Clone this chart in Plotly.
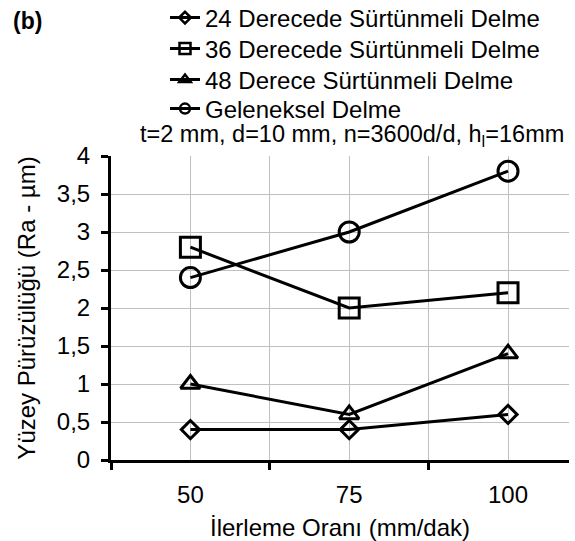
import plotly.graph_objects as go

feed = [50, 75, 100]
s24 = [0.4, 0.4, 0.6]
s36 = [2.8, 2.0, 2.2]
s48 = [1.0, 0.6, 1.4]
sgel = [2.4, 3.0, 3.8]
names = ["24 Derecede Sürtünmeli Delme", "36 Derecede Sürtünmeli Delme",
         "48 Derece Sürtünmeli Delme", "Geleneksel Delme"]
series = [s24, s36, s48, sgel]
symbols = ["diamond-open", "square-open", "triangle-up-open", "circle-open"]
plot_sizes = [14, 20, 17, 20]
legend_sizes = [9, 11, 10, 10]
y_ticks = [0, 0.5, 1, 1.5, 2, 2.5, 3, 3.5, 4]
x_ticks = [50, 75, 100]
x_bounds = [37.5, 62.5, 87.5]

FONT = "Liberation Sans, Arial, sans-serif"
W, H = 575, 541
L, R, T, B = 111, 6, 156, 81
PW, PH = W - L - R, H - T - B

def paper_x(px):
    return (px - L) / PW

def paper_y(py):
    return 1 + (T - py) / PH

legend_ids = ["legend", "legend2", "legend3", "legend4"]
row_centers = [18, 49, 80, 109]

fig = go.Figure()
for name, ys, sym, ps in zip(names, series, symbols, plot_sizes):
    fig.add_trace(go.Scatter(
        x=feed, y=ys, mode="lines+markers", name=name, showlegend=False,
        line=dict(color="black", width=3),
        marker=dict(symbol=sym, size=ps, color="black", line=dict(color="black", width=3)),
    ))
for name, sym, ls, lid in zip(names, symbols, legend_sizes, legend_ids):
    fig.add_trace(go.Scatter(
        x=[None], y=[None], mode="lines+markers", name=name, showlegend=True,
        legend=lid,
        line=dict(color="black", width=3),
        marker=dict(symbol=sym, size=ls, color="black", line=dict(color="black", width=2.5)),
    ))

legend_layout = {}
for lid, yc in zip(legend_ids, row_centers):
    legend_layout[lid] = dict(x=paper_x(165), xanchor="left", y=paper_y(yc), yanchor="middle",
                              bgcolor="rgba(0,0,0,0)", font=dict(size=24), itemwidth=30)

fig.update_layout(
    width=W, height=H,
    margin=dict(l=L, r=R, t=T, b=B, autoexpand=False),
    paper_bgcolor="white", plot_bgcolor="white",
    separators=", ",
    font=dict(family=FONT, size=24, color="black"),
    showlegend=True,
    xaxis=dict(range=[37.5, 109.6], tickvals=x_ticks, ticks="", showgrid=True,
               gridcolor="#c0c0c0", gridwidth=1, zeroline=False,
               showline=True, linecolor="black", linewidth=3,
               ticklabelstandoff=11, automargin=False,
               minor=dict(tickvals=x_bounds, ticks="outside", ticklen=7, tickwidth=3,
                          tickcolor="black", showgrid=True, gridcolor="#c0c0c0", gridwidth=1),
               title=dict(text="İlerleme Oranı (mm/dak)", font=dict(size=24))),
    yaxis=dict(range=[0, 4], tickvals=y_ticks, ticks="outside", ticklen=7, tickwidth=3,
               tickcolor="black", showgrid=True, gridcolor="#c0c0c0", gridwidth=1,
               zeroline=False, showline=True, linecolor="black", linewidth=3,
               ticklabelstandoff=6, automargin=False,
               title=dict(text="Yüzey Pürüzülüğü (Ra - µm)", font=dict(size=24))),
    annotations=[
        dict(text="<b>(b)</b>", xref="paper", yref="paper", x=paper_x(27),
             y=paper_y(21), xanchor="center", yanchor="middle",
             showarrow=False, font=dict(size=23)),
        dict(text="t=2 mm, d=10 mm, n=3600d/d, h<sub>l</sub>=16mm", xref="paper", yref="paper",
             x=paper_x(566), y=paper_y(135), xanchor="right", yanchor="middle",
             showarrow=False, font=dict(size=23.5)),
    ],
    **legend_layout,
)
fig.write_html("out.html")
